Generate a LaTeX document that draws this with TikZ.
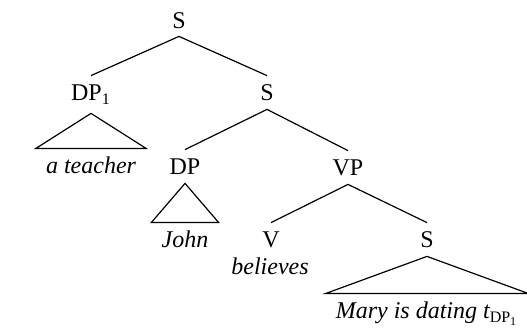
\documentclass[tikz,border=0pt]{standalone}
\usepackage{fontspec}
\setmainfont{Liberation Serif}

\tikzset{
  cat/.style={font=\fontsize{12}{14}\selectfont, anchor=base, text height=8.5pt, text depth=0pt, inner xsep=1pt, inner ysep=4pt},
  word/.style={font=\fontsize{12}{14}\selectfont\itshape, anchor=base, text height=8.5pt, text depth=0pt, inner xsep=5pt, inner ysep=4pt},
  branch/.style={draw, line width=0.6pt},
}

\begin{document}
\begin{tikzpicture}[x=0.5pt, y=-0.5pt]
  \useasboundingbox (0,0) rectangle (527,332);

  \node[cat] (s)    at (179,28)  {S};
  \node[cat, text depth=2pt] (dpsub) at (91,101) {DP\textsubscript{1}};
  \node[cat] (sb)   at (267,101) {S};
  \node[cat] (dp)   at (185,175) {DP};
  \node[cat] (vp)   at (348,176) {VP};
  \node[cat] (v)    at (271,248) {V};
  \node[cat] (sc)   at (427,248) {S};

  \node[word] (teacher)  at (91,174)  {a teacher};
  \node[word] (john)     at (185,248) {John};
  \node[word] (believes) at (270,275) {believes};
  \node[word] (mary)     at (427,319) {Mary is dating \textit{t}\textsubscript{\upshape DP\textsubscript{1}}};

  \draw[branch] (s.south)  -- (dpsub.north);
  \draw[branch] (s.south)  -- (sb.north);
  \draw[branch] (sb.south) -- (dp.north);
  \draw[branch] (sb.south) -- (vp.north);
  \draw[branch] (vp.south) -- (v.north);
  \draw[branch] (vp.south) -- (sc.north);

  \draw[branch] (dpsub.south) -- (teacher.north west) -- (teacher.north east) -- cycle;
  \draw[branch] (dp.south) -- (john.north west) -- (john.north east) -- cycle;
  \draw[branch] (sc.south) -- (mary.north west) -- (mary.north east) -- cycle;
\end{tikzpicture}
\end{document}
